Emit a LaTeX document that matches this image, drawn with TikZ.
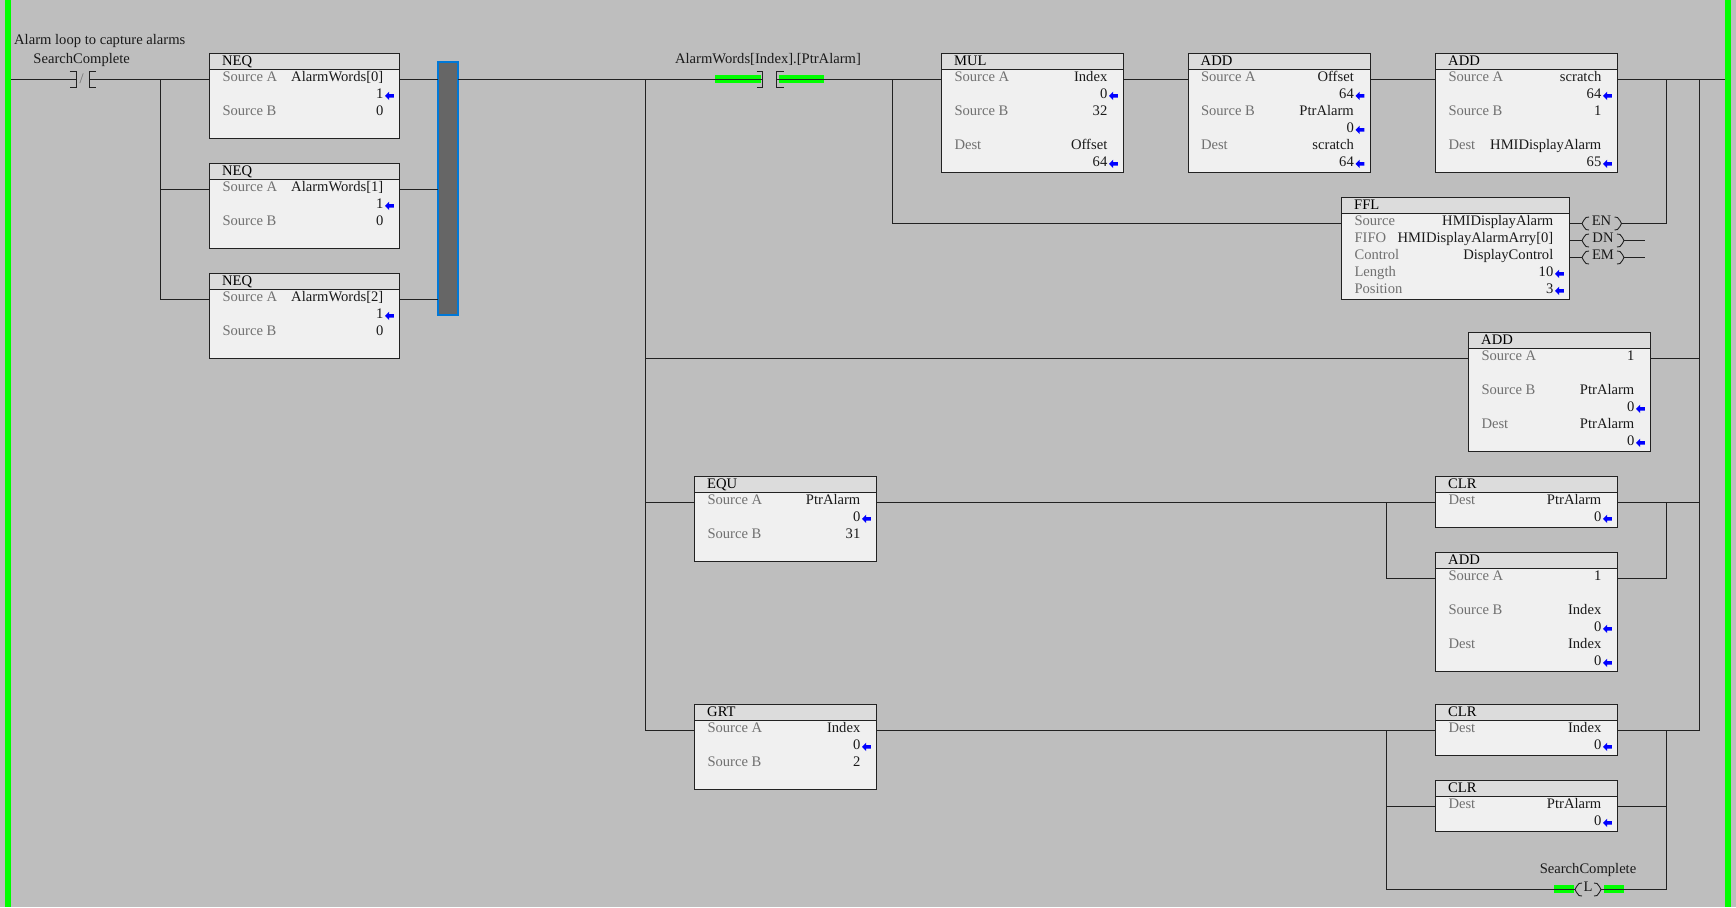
\documentclass[tikz,border=0pt]{standalone}
\usepackage{fontspec}
\setmainfont{Liberation Serif}
\definecolor{bgc}{HTML}{BEBEBE}
\definecolor{boxc}{HTML}{F0F0F0}
\definecolor{headc}{HTML}{DCDCDC}
\definecolor{linec}{HTML}{222222}
\definecolor{lblc}{HTML}{707070}
\definecolor{valc}{HTML}{1A1A1A}
\definecolor{railc}{HTML}{00FF00}
\definecolor{barc}{HTML}{666666}
\definecolor{barb}{HTML}{0078D7}
\tikzset{
  wire/.style={draw=linec,line width=1pt},
  fb/.style={draw=linec,fill=boxc,line width=1pt,inner sep=0pt,outer sep=0pt,anchor=north west,rectangle},
  fbtitle/.style={anchor=west,inner sep=0pt,text=black,font=\fs,text height=9.5pt,text depth=3pt},
  fblbl/.style={anchor=west,inner sep=0pt,text=lblc,font=\fs,text height=9.5pt,text depth=3pt},
  fbval/.style={anchor=east,inner sep=0pt,text=valc,font=\fs,text height=9.5pt,text depth=3pt},
  txt/.style={inner sep=0pt,text=valc,font=\fs,text height=9.5pt,text depth=3pt},
  greenpad/.style={fill=railc,draw=none},
  coiltxt/.style={inner sep=0pt,text=valc,font=\fs,text height=9.5pt,text depth=3pt},
}
\newcommand{\fs}{\fontsize{14.6}{16}\selectfont}
% \fbk{name}{x}{y}{w}{rows}{title}
\newcommand{\fbk}[6]{%
  \pgfmathsetmacro{\fbh}{16+17*#5+0.7}%
  \node[fb,minimum width=#4pt,minimum height=\fbh pt] (#1) at (#2,#3) {};
  \fill[headc] ([shift={(0.5,0.5)}]#1.north west) rectangle ([shift={(-0.5,16)}]#1.north east);
  \draw[linec,line width=1pt] ([shift={(0,16)}]#1.north west) -- ([shift={(0,16)}]#1.north east);
  \node[fbtitle] (#1-t) at ([shift={(12.5,8.3)}]#1.north west) {#6};
  \coordinate (#1-in) at ([shift={(0,26)}]#1.north west);
  \coordinate (#1-out) at ([shift={(0,26)}]#1.north east);
}
% \frow{box}{rowindex}{label}{value}{arrow 0/1}
\newcommand{\frow}[5]{%
  \pgfmathsetmacro{\ry}{25+17*(#2-1)}%
  \node[fblbl] at ([shift={(12.8,\ry)}]#1.north west) {#3};
  \node[fbval] at ([shift={(-16,\ry)}]#1.north east) {#4};
  \ifnum#5=1
    \fill[blue] ([shift={(-14.5,\ry+0.3)}]#1.north east) -- ++(4.2,-4.2) -- ++(0,2.4) -- ++(4.6,0) -- ++(0,3.6) -- ++(-4.6,0) -- ++(0,2.4) -- cycle;
  \fi
}
\begin{document}
\begin{tikzpicture}[x=1pt,y=-1pt]
\useasboundingbox (0,0) rectangle (1736,907);
\fill[bgc] (0,0) rectangle (1736,907);
\fill[railc] (5,0) rectangle (11,907);
\fill[railc] (1725,0) rectangle (1731,907);
\coordinate (railL) at (11,79.5);
\coordinate (railR) at (1725,79.5);

% blocks
\fbk{n0}{209.5}{53.5}{190}{4}{NEQ}
\frow{n0}{1}{Source A}{AlarmWords[0]}{0}\frow{n0}{2}{}{1}{1}\frow{n0}{3}{Source B}{0}{0}
\fbk{n1}{209.5}{163.5}{190}{4}{NEQ}
\frow{n1}{1}{Source A}{AlarmWords[1]}{0}\frow{n1}{2}{}{1}{1}\frow{n1}{3}{Source B}{0}{0}
\fbk{n2}{209.5}{273.5}{190}{4}{NEQ}
\frow{n2}{1}{Source A}{AlarmWords[2]}{0}\frow{n2}{2}{}{1}{1}\frow{n2}{3}{Source B}{0}{0}

\fbk{mul}{941.5}{53.5}{182}{6}{MUL}
\frow{mul}{1}{Source A}{Index}{0}\frow{mul}{2}{}{0}{1}\frow{mul}{3}{Source B}{32}{0}\frow{mul}{5}{Dest}{Offset}{0}\frow{mul}{6}{}{64}{1}
\fbk{ad1}{1188}{53.5}{182}{6}{ADD}
\frow{ad1}{1}{Source A}{Offset}{0}\frow{ad1}{2}{}{64}{1}\frow{ad1}{3}{Source B}{PtrAlarm}{0}\frow{ad1}{4}{}{0}{1}\frow{ad1}{5}{Dest}{scratch}{0}\frow{ad1}{6}{}{64}{1}
\fbk{ad2}{1435.5}{53.5}{182}{6}{ADD}
\frow{ad2}{1}{Source A}{scratch}{0}\frow{ad2}{2}{}{64}{1}\frow{ad2}{3}{Source B}{1}{0}\frow{ad2}{5}{Dest}{HMIDisplayAlarm}{0}\frow{ad2}{6}{}{65}{1}

\fbk{ffl}{1341.5}{197.5}{228}{5}{FFL}
\frow{ffl}{1}{Source}{HMIDisplayAlarm}{0}\frow{ffl}{2}{FIFO}{HMIDisplayAlarmArry[0]}{0}\frow{ffl}{3}{Control}{DisplayControl}{0}\frow{ffl}{4}{Length}{10}{1}\frow{ffl}{5}{Position}{3}{1}

\fbk{ad3}{1468.5}{332.5}{182}{6}{ADD}
\frow{ad3}{1}{Source A}{1}{0}\frow{ad3}{3}{Source B}{PtrAlarm}{0}\frow{ad3}{4}{}{0}{1}\frow{ad3}{5}{Dest}{PtrAlarm}{0}\frow{ad3}{6}{}{0}{1}

\fbk{equ}{694.5}{476.5}{182}{4}{EQU}
\frow{equ}{1}{Source A}{PtrAlarm}{0}\frow{equ}{2}{}{0}{1}\frow{equ}{3}{Source B}{31}{0}
\fbk{cl1}{1435.5}{476.5}{182}{2}{CLR}
\frow{cl1}{1}{Dest}{PtrAlarm}{0}\frow{cl1}{2}{}{0}{1}
\fbk{ad4}{1435.5}{552.5}{182}{6}{ADD}
\frow{ad4}{1}{Source A}{1}{0}\frow{ad4}{3}{Source B}{Index}{0}\frow{ad4}{4}{}{0}{1}\frow{ad4}{5}{Dest}{Index}{0}\frow{ad4}{6}{}{0}{1}

\fbk{grt}{694.5}{704.5}{182}{4}{GRT}
\frow{grt}{1}{Source A}{Index}{0}\frow{grt}{2}{}{0}{1}\frow{grt}{3}{Source B}{2}{0}
\fbk{cl2}{1435.5}{704.5}{182}{2}{CLR}
\frow{cl2}{1}{Dest}{Index}{0}\frow{cl2}{2}{}{0}{1}
\fbk{cl3}{1435.5}{780.5}{182}{2}{CLR}
\frow{cl3}{1}{Dest}{PtrAlarm}{0}\frow{cl3}{2}{}{0}{1}

% OR-bar
\node[draw=barb,fill=barc,line width=2pt,inner sep=0pt,outer sep=0pt,minimum width=19.4pt,minimum height=253pt,anchor=north west] (bar) at (438.3,62.3) {};

% green pads under contact/coil
\fill[greenpad] (715,75) rectangle (761,83);
\fill[greenpad] (779,75) rectangle (824,83);
\fill[greenpad] (1554,885) rectangle (1574,893);
\fill[greenpad] (1604,885) rectangle (1624,893);

% labels
\node[txt,anchor=west] (cmt) at (14,41.3) {Alarm loop to capture alarms};
\node[txt] (lbSC) at (81.7,60.3) {SearchComplete};
\node[txt] (lbAW) at (768,60.3) {AlarmWords[Index].[PtrAlarm]};
\node[txt] (lbSC2) at (1588,870) {SearchComplete};
\node[text=lblc,inner sep=0pt,font=\fs] (slash) at (81.7,78.5) {/};

% contacts
\coordinate (c1a) at (76.5,79.5);
\coordinate (c1b) at (89.5,79.5);
\draw[wire] (69.5,71.5) -| (76.5,87.5) -- (69.5,87.5);
\draw[wire] (95.5,71.5) -| (89.5,87.5) -- (95.5,87.5);
\coordinate (c2a) at (762.5,79.5);
\coordinate (c2b) at (776.5,79.5);
\draw[wire] (756.5,71.5) -| (762.5,87.5) -- (756.5,87.5);
\draw[wire] (783.5,71.5) -| (776.5,87.5) -- (783.5,87.5);

% junctions
\coordinate (j1t) at (160.5,79.5);
\coordinate (j2t) at (645.5,79.5);
\coordinate (j3t) at (892.5,79.5);

% rungs left
\draw[wire] (railL) -- (c1a);
\draw[wire] (c1b) -- (n0-in);
\draw[wire] (j1t) |- (n1-in);
\draw[wire] (j1t) |- (n2-in);
\draw[wire] (n0-out) -- (n0-out -| bar.west);
\draw[wire] (n1-out) -- (n1-out -| bar.west);
\draw[wire] (n2-out) -- (n2-out -| bar.west);
\draw[wire] (n0-out -| bar.east) -- (c2a);
\draw[wire] (c2b) -- (mul-in);
\draw[wire] (mul-out) -- (ad1-in);
\draw[wire] (ad1-out) -- (ad2-in);
\draw[wire] (ad2-out) -- (railR);

% FFL branch
\draw[wire] (j3t) |- (ffl-in);
\node[coiltxt] (en) at (1601.5,222.5) {EN};
\node[coiltxt] (dn) at (1603,239.5) {DN};
\node[coiltxt] (em) at (1603,256.5) {EM};
\coordinate (en-l) at (1582,223.5);\coordinate (en-r) at (1621.5,223.5);
\coordinate (dn-l) at (1582,240.5);\coordinate (dn-r) at (1624,240.5);
\coordinate (em-l) at (1582,257.5);\coordinate (em-r) at (1624,257.5);
\foreach \c/\s in {en-l/1,en-r/-1,dn-l/1,dn-r/-1,em-l/1,em-r/-1,lc-l/1,lc-r/-1}{
  \ifnum\pdfstrcmp{\c}{lc-l}=0 \coordinate (lc-l) at (1575,889.5);\fi
  \ifnum\pdfstrcmp{\c}{lc-r}=0 \coordinate (lc-r) at (1601,889.5);\fi
  \draw[linec,line width=0.9pt] ([shift={(\s*7,-6.5)}]\c) -- ([shift={(\s*4,-6)}]\c) .. controls ([shift={(\s*2,-4)}]\c) and ([shift={(\s*1,-2)}]\c) .. (\c) .. controls ([shift={(\s*1,2)}]\c) and ([shift={(\s*2,4)}]\c) .. ([shift={(\s*4,6)}]\c) -- ([shift={(\s*7,6.5)}]\c);
}
\coordinate (ffl-en) at (1569.5,223.5);
\coordinate (ffl-dn) at (1569.5,240.5);
\coordinate (ffl-em) at (1569.5,257.5);
\coordinate (dn-e) at (1645,240.5);
\coordinate (em-e) at (1645,257.5);
\coordinate (rA) at (1666.5,79.5);
\draw[wire] (ffl-en) -- (en-l);
\draw[wire] (ffl-dn) -- (dn-l);
\draw[wire] (ffl-em) -- (em-l);
\draw[wire] (en-r) -| (rA);
\draw[wire] (dn-r) -- (dn-e);
\draw[wire] (em-r) -- (em-e);

% main vertical
\coordinate (rB) at (1699.5,79.5);
\draw[wire] (j2t) |- (grt-in);
\draw[wire] (rB) |- (cl2-out);
\draw[wire] (j2t |- ad3-in) -- (ad3-in);
\draw[wire] (ad3-out) -- (ad3-out -| rB);
\draw[wire] (j2t |- equ-in) -- (equ-in);
\draw[wire] (equ-out) -- (cl1-in);
\draw[wire] (cl1-out) -- (cl1-out -| rB);
\coordinate (jE) at (1386.5,502.5);
\coordinate (jEr) at (1666.5,502.5);
\draw[wire] (jE) |- (ad4-in);
\draw[wire] (jEr) |- (ad4-out);

% GRT rung
\draw[wire] (grt-out) -- (cl2-in);
\coordinate (jG) at (1386.5,730.5);
\coordinate (jGr) at (1666.5,730.5);
\draw[wire] (jG) |- (cl3-in);
\draw[wire] (jGr) |- (cl3-out);
\draw[wire] (jG) |- (lc-l);
\draw[wire] (jGr) |- (lc-r);
\node[coiltxt] (lcoil) at (1588,888.5) {L};
\end{tikzpicture}
\end{document}
